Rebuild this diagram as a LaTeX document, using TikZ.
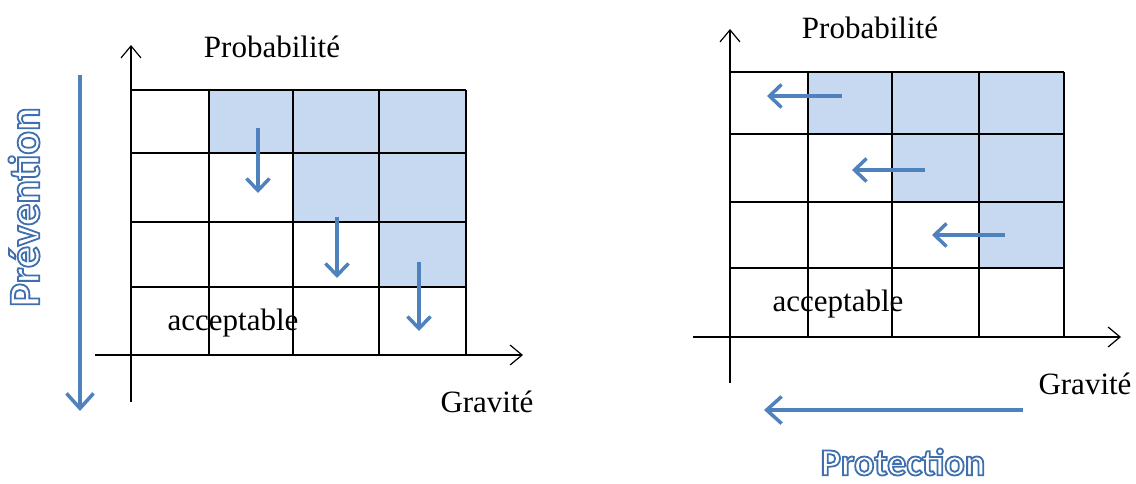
\documentclass[tikz,border=0pt]{standalone}
\usepackage{fontspec}
\setmainfont{Liberation Serif}
\newfontfamily\calib{Carlito}
\usetikzlibrary{arrows.meta}
\definecolor{cellblue}{HTML}{C6D9F1}
\definecolor{arrblue}{HTML}{4F81BD}
\definecolor{outblue}{HTML}{3F6FAE}
\newcommand\outlinedtext[1]{\special{pdf:literal direct 1 Tr 1.8 w}#1\special{pdf:literal direct 0 Tr}}
\begin{document}
\begin{tikzpicture}[x=1pt,y=-1pt,
  gridline/.style={line width=1.5pt},
  axis/.style={line width=1.2pt,-{Straight Barb[length=12pt,width=20pt]}},
  smallarr/.style={arrblue,line width=3.5pt,-{Straight Barb[length=12pt,width=23pt]}},
  bigarr/.style={arrblue,line width=3.5pt,-{Straight Barb[length=15pt,width=27pt]}},
  lbl/.style={font=\fontsize{31}{36}\selectfont,inner sep=0pt},
  outl/.style={text=outblue,font=\calib\bfseries\fontsize{38}{44}\selectfont,inner sep=0pt}]
\useasboundingbox (0,0) rectangle (1136,483);
% ---------- left matrix ----------
\fill[cellblue] (209,90) rectangle (466,153);
\fill[cellblue] (293,153) rectangle (466,222);
\fill[cellblue] (379,222) rectangle (466,287);
\foreach \x in {131,209,293,379,466} \draw[gridline] (\x,90) -- (\x,355);
\foreach \y in {90,153,222,287,355} \draw[gridline] (131,\y) -- (466,\y);
\coordinate (LYb) at (131,402);
\coordinate (LYt) at (131,45);
\coordinate (LXl) at (95,355);
\coordinate (LXr) at (523,355);
\draw[axis] (LYb) -- (LYt);
\draw[axis] (LXl) -- (LXr);
\node[lbl] (lprob) at (272,47) {Probabilité};
\node[lbl] (lacc) at (233,323) {acceptable};
\node[lbl] (lgrav) at (487,402) {Gravité};
\coordinate (la1s) at (258,128); \coordinate (la1e) at (258,193);
\coordinate (la2s) at (337,217); \coordinate (la2e) at (337,278);
\coordinate (la3s) at (419,262); \coordinate (la3e) at (419,331);
\draw[smallarr] (la1s) -- (la1e);
\draw[smallarr] (la2s) -- (la2e);
\draw[smallarr] (la3s) -- (la3e);
\coordinate (prevs) at (80,75); \coordinate (preve) at (80,411);
\draw[bigarr] (prevs) -- (preve);
\node[outl,rotate=90,font=\calib\bfseries\fontsize{44}{52}\selectfont] (prev) at (24,207) {\outlinedtext{Prévention}};
% ---------- right matrix ----------
\fill[cellblue] (808,72) rectangle (1064,134);
\fill[cellblue] (892,134) rectangle (1064,202);
\fill[cellblue] (979,202) rectangle (1064,268);
\foreach \x in {730,808,892,979,1064} \draw[gridline] (\x,72) -- (\x,337);
\foreach \y in {72,134,202,268,337} \draw[gridline] (730,\y) -- (1064,\y);
\coordinate (RYb) at (730,383);
\coordinate (RYt) at (730,29);
\coordinate (RXl) at (693,337);
\coordinate (RXr) at (1121,337);
\draw[axis] (RYb) -- (RYt);
\draw[axis] (RXl) -- (RXr);
\node[lbl] (rprob) at (870,28) {Probabilité};
\node[lbl] (racc) at (838,304) {acceptable};
\node[lbl] (rgrav) at (1085,384) {Gravité};
\coordinate (ra1s) at (842,96); \coordinate (ra1e) at (767,96);
\coordinate (ra2s) at (925,170); \coordinate (ra2e) at (852,170);
\coordinate (ra3s) at (1005,235); \coordinate (ra3e) at (932,235);
\draw[smallarr] (ra1s) -- (ra1e);
\draw[smallarr] (ra2s) -- (ra2e);
\draw[smallarr] (ra3s) -- (ra3e);
\coordinate (prots) at (1023,410); \coordinate (prote) at (764,410);
\draw[bigarr] (prots) -- (prote);
\node[outl] (prot) at (903,462) {\outlinedtext{Protection}};
\end{tikzpicture}
\end{document}
